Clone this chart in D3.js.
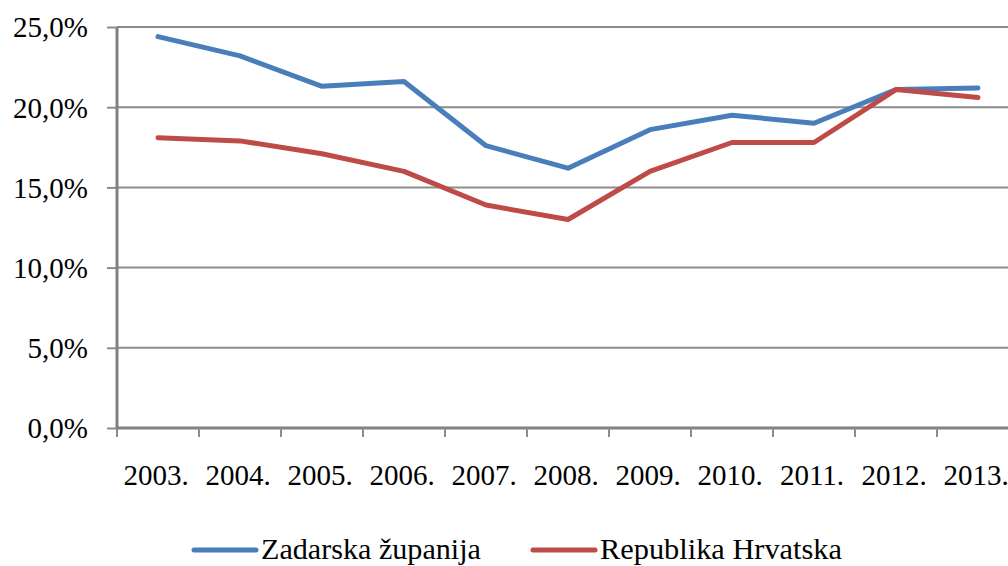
<!DOCTYPE html>
<html><head><meta charset="utf-8">
<script src="https://cdn.jsdelivr.net/npm/d3@7"></script>
<style>body{margin:0;background:#fff;overflow:hidden}svg{display:block}
text{font-family:"Liberation Serif","Times New Roman",serif;fill:#000}</style>
</head><body>
<svg id="c" width="1008" height="566"></svg>
<script>
const years = ["2003.","2004.","2005.","2006.","2007.","2008.","2009.","2010.","2011.","2012.","2013."];
const zadar = [24.4,23.2,21.3,21.6,17.6,16.2,18.6,19.5,19.0,21.1,21.2];
const hrvatska = [18.1,17.9,17.1,16.0,13.9,13.0,16.0,17.8,17.8,21.1,20.6];
const yTicks = [0,5,10,15,20,25];
const seriesNames = ["Zadarska županija","Republika Hrvatska"];
const colors = ["#4a7ebb","#be4b48"];

const svg = d3.select("#c");
const x = d3.scaleBand().domain(years).range([117, 1019]);
const y = d3.scaleLinear().domain([0,25]).range([428, 27]);

// gridlines
svg.append("g").selectAll("line").data(yTicks.filter(d=>d>0)).join("line")
  .attr("x1",117).attr("x2",1008).attr("y1",d=>y(d)).attr("y2",d=>y(d))
  .attr("stroke","#8c8c8c").attr("stroke-width",2);

// y axis
const ya = svg.append("g").attr("transform","translate(117,0)")
  .call(d3.axisLeft(y).tickValues(yTicks).tickSize(10).tickPadding(19)
    .tickFormat(d=>d.toFixed(1).replace(".",",")+"%"));
ya.select(".domain").remove();
ya.selectAll(".tick line").attr("stroke","#8c8c8c").attr("stroke-width",2);
ya.selectAll("text").attr("font-size",29).attr("dy","0.34em").attr("font-family",null).attr("fill",null);
svg.append("line").attr("x1",117).attr("x2",117).attr("y1",27).attr("y2",429.5)
  .attr("stroke","#808080").attr("stroke-width",3);

// x axis
const xa = svg.append("g").attr("transform","translate(0,428)")
  .call(d3.axisBottom(x).tickSize(0).tickPadding(36));
xa.select(".domain").remove();
xa.selectAll("text").attr("font-size",29).attr("dx",-2).attr("font-family",null).attr("fill",null);
svg.append("line").attr("x1",116).attr("x2",1008).attr("y1",428).attr("y2",428)
  .attr("stroke","#808080").attr("stroke-width",3);
svg.append("g").selectAll("line").data(years).join("line")
  .attr("x1",d=>x(d)).attr("x2",d=>x(d)).attr("y1",428).attr("y2",437)
  .attr("stroke","#8c8c8c").attr("stroke-width",2);

// lines
const line = d3.line().x((d,i)=>x(years[i])+x.bandwidth()/2).y(d=>y(d));
[zadar, hrvatska].forEach((s,k)=>{
  svg.append("path").datum(s).attr("d",line).attr("fill","none")
    .attr("stroke",colors[k]).attr("stroke-width",5)
    .attr("stroke-linejoin","round").attr("stroke-linecap","round");
});

// legend
const legX = [194, 533];
const legW = [220, 242];
seriesNames.forEach((n,k)=>{
  svg.append("line").attr("x1",legX[k]).attr("x2",legX[k]+62).attr("y1",550).attr("y2",550)
    .attr("stroke",colors[k]).attr("stroke-width",5).attr("stroke-linecap","round");
  svg.append("text").attr("x",legX[k]+67).attr("y",559).text(n)
    .attr("font-size",29).attr("textLength",legW[k]).attr("lengthAdjust","spacingAndGlyphs");
});
</script>
</body></html>
